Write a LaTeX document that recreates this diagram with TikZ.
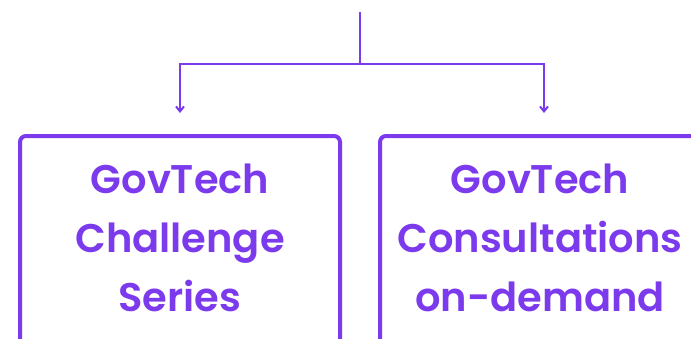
\documentclass[tikz,border=0pt]{standalone}
\usepackage{fontspec}
\setmainfont{Poppins}[BoldFont={Poppins SemiBold}]
\usetikzlibrary{arrows.meta}
\definecolor{govpurple}{RGB}{124,58,237}

\begin{document}
\begin{tikzpicture}[x=1pt,y=-1pt,>={Straight Barb[length=5pt,width=8pt]},
    card/.style={draw=govpurple,line width=4pt,rounded corners=6pt,minimum width=320pt,minimum height=300pt,anchor=north},
    cardtext/.style={text=govpurple,align=center,font=\fontsize{40}{59}\selectfont\bfseries}]

    \useasboundingbox[clip] (0,0) rectangle (691,338);

    % the fork on top
    \coordinate (top) at (360,12);
    \coordinate (fork) at (360,64);
    \coordinate (lend) at (180,113);
    \coordinate (rend) at (544,113);

    \draw [govpurple,line width=2pt] (top) -- (fork);
    \draw [->,govpurple,line width=2pt] (fork) -| (lend);
    \draw [->,govpurple,line width=2pt] (fork) -| (rend);

    % the two cards
    \node [card] (challenge) at (180,134) {};
    \node [card] (consult) at (540,134) {};

    \node [cardtext] (challengetext) at (180,238) {GovTech\\Challenge\\Series};
    \node [cardtext] (consulttext) at (540,238) {GovTech\\Consultations\\on-demand};

\end{tikzpicture}
\end{document}
